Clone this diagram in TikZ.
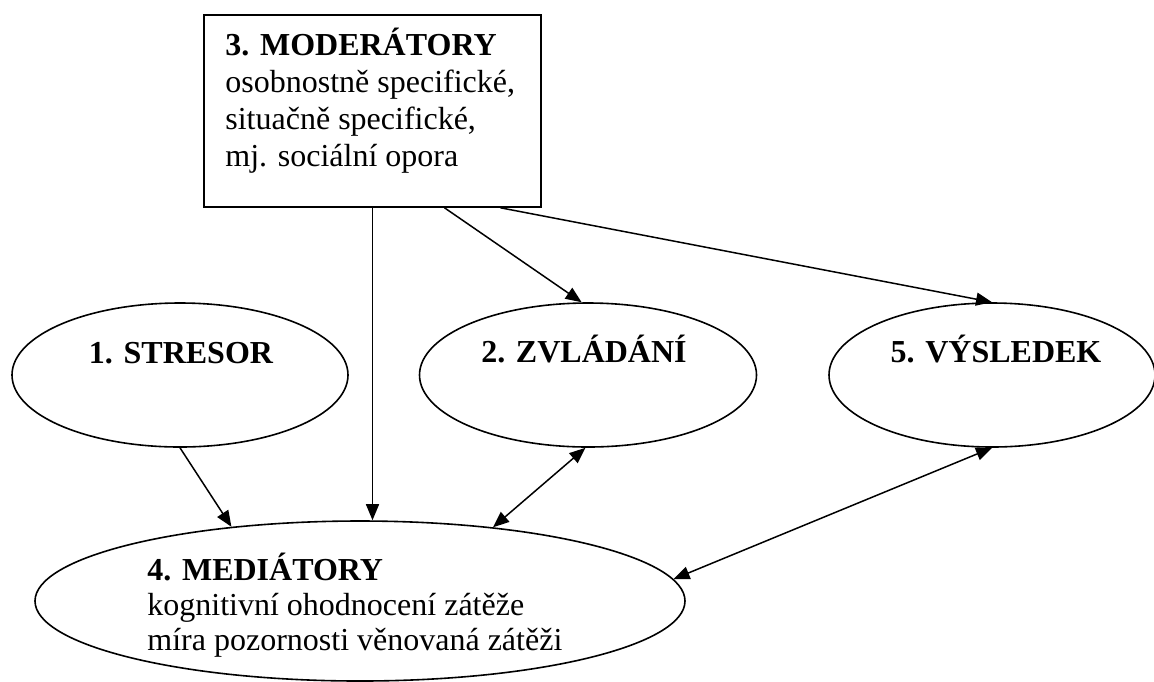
\documentclass[tikz,border=0pt]{standalone}
\usepackage{fontspec}
\setmainfont{Liberation Serif}
\usetikzlibrary{arrows.meta,shapes.geometric}

\begin{document}
\begin{tikzpicture}[
    x=0.5pt, y=-0.5pt,
    font=\fontsize{16}{18.5}\selectfont,
    box/.style={draw, line width=0.8pt, minimum width=168.5pt, minimum height=96pt, inner sep=0pt},
    oval/.style={draw, ellipse, line width=0.8pt, inner sep=0pt, minimum height=72pt},
    lbl/.style={inner sep=0pt, anchor=base, font=\fontsize{16}{18.5}\selectfont\bfseries},
    txt/.style={inner sep=0pt, anchor=base west, align=left},
    arr/.style={-{Triangle[length=8pt,width=6.5pt]}, line width=0.75pt},
    dbl/.style={{Triangle[length=8pt,width=6.5pt]}-{Triangle[length=8pt,width=6.5pt]}, line width=0.75pt}
  ]
  \useasboundingbox (0,0) rectangle (1154,681);
  \node[box] (moderatory) at (372.5,111) {};
  \node[oval, minimum width=168pt] (stresor) at (180,375) {};
  \node[oval, minimum width=168.5pt] (zvladani) at (588,375) {};
  \node[oval, minimum width=163pt] (vysledek) at (992,375) {};
  \node[oval, minimum width=325pt, minimum height=80pt] (mediatory) at (360,601) {};
  % texts (anchored at the last baseline)
  \node[txt] (moderatory-txt) at (225,166) {\textbf{3. MODERÁTORY}\\osobnostně specifické,\\situačně specifické,\\mj. sociální opora};
  \node[lbl] (stresor-txt) at (181,363) {1. STRESOR};
  \node[lbl] (zvladani-txt) at (584,362) {2. ZVLÁDÁNÍ};
  \node[lbl] (vysledek-txt) at (996,362) {5. VÝSLEDEK};
  \begin{scope}
    \clip (0,0) rectangle (1154,657);
    \node[txt, font=\fontsize{16}{17.5}\selectfont] (mediatory-txt) at (147,650) {\textbf{4. MEDIÁTORY}\\kognitivní ohodnocení zátěže\\míra pozornosti věnovaná zátěži};
  \end{scope}
  % arrows
  \draw[arr] (moderatory.south) -- (moderatory.south |- mediatory.north);
  \draw[arr] ([xshift=36pt]moderatory.south) -- (zvladani.95);
  \draw[arr] ([xshift=64pt]moderatory.south) -- (vysledek.north);
  \draw[arr] (stresor.south) -- (mediatory.150);
  \draw[dbl] (zvladani.268) -- (mediatory.29);
  \draw[dbl] (vysledek.south) -- (mediatory.4);
\end{tikzpicture}
\end{document}
